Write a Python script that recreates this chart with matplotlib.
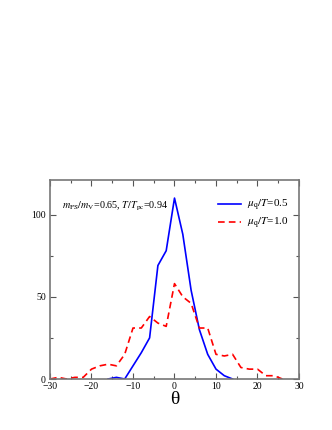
import matplotlib
matplotlib.use("Agg")
import matplotlib.pyplot as plt
from matplotlib.ticker import MultipleLocator

plt.rcParams['font.family'] = ['Liberation Serif', 'DejaVu Serif']
plt.rcParams['mathtext.fontset'] = 'stix'

theta_blue = [-16, -14, -12, -10, -8, -6, -4, -2, 0, 2, 4, 6, 8, 10, 12, 14]
hist_blue = [0, 1, 0, 8, 16, 25, 69, 78, 110, 88, 54, 30, 15, 6, 2, 0]

theta_red = [-30, -28, -26, -24, -22, -20, -18, -16, -14, -12, -10, -8, -6, -4, -2,
             0, 2, 4, 6, 8, 10, 12, 14, 16, 18, 20, 22, 24, 26]
hist_red = [0, 1, 0, 1, 1, 6, 8, 9, 8, 15, 31, 31, 38, 34, 32,
            58, 50, 46, 31, 31, 15, 14, 15, 7, 6, 6, 2, 2, 0]

fig = plt.figure(figsize=(3.32, 4.30), dpi=100)
ax = fig.add_axes([0.1506, 0.1186, 0.75, 0.4628])

ax.plot(theta_blue, hist_blue, color='#0000ff', lw=1.2, label=r'$\mu_{\rm q}/T$=0.5')
ax.plot(theta_red, hist_red, color='#ff0000', lw=1.2, ls=(0, (4, 2.5)), label=r'$\mu_{\rm q}/T$=1.0')

ax.set_xlim(-30, 30)
ax.set_ylim(0, 121)
ax.xaxis.set_major_locator(MultipleLocator(10))
ax.xaxis.set_minor_locator(MultipleLocator(5))
ax.yaxis.set_major_locator(MultipleLocator(50))
ax.yaxis.set_minor_locator(MultipleLocator(25))
ax.tick_params(which='both', direction='in', top=True, right=True, labelsize=7, pad=2,
               color='#555555', width=0.8)
ax.tick_params(axis='y', pad=3)
ax.tick_params(which='major', length=4)
ax.tick_params(which='minor', length=2.5)
for s in ax.spines.values():
    s.set_color('#777777')
    s.set_linewidth(1.2)

ax.set_xlabel('θ', fontsize=14, labelpad=0)

ax.text(0.05, 0.855, r'$m_{\rm PS}/m_{\rm V}$=0.65, $T/T_{\rm pc}$=0.94',
        transform=ax.transAxes, fontsize=7.3)

ax.legend(loc='upper right', frameon=False, fontsize=8, handlelength=2.0,
          handletextpad=0.6, bbox_to_anchor=(1.0, 0.96), labelspacing=0.3)

fig.savefig('out.png', dpi=100)
